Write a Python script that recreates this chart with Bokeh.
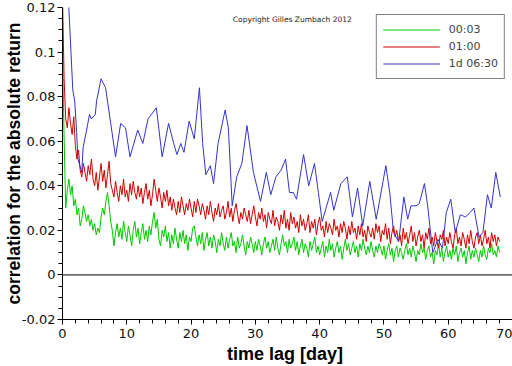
from bokeh.plotting import figure
from bokeh.models import Range1d, Span, Legend, LegendItem, Label, FixedTicker, CustomJSTickFormatter
from bokeh.embed import file_html
from bokeh.resources import INLINE

# ---------------- data ----------------
# time lag in days for the two noisy series: 0, 0.25, ..., 68
t_step = [i * 0.25 for i in range(273)]

# correlation values in units of 1/1000
green_0003_pm = [
    100, 62, 30, 38, 43, 36, 40, 31, 34, 27, 30, 22, 25, 31, 28, 24,
    27, 22, 25, 20, 23, 18, 21, 19, 26, 30, 27, 33, 37, 31, 24, 20,
    13, 19, 23, 17, 21, 16, 24, 19, 15, 22, 18, 13, 20, 24, 17, 21,
    14, 19, 23, 16, 20, 15, 22, 18, 24, 28, 21, 25, 16, 13, 20, 17,
    22, 15, 19, 12, 18, 14, 21, 16, 12, 19, 15, 20, 14, 18, 11, 17,
    15, 21, 22, 17, 13, 18, 14, 19, 11, 16, 19, 13, 17, 12, 18, 15,
    10, 16, 13, 19, 14, 11, 17, 12, 16, 19, 13, 15, 10, 17, 12, 14,
    18, 13, 9, 15, 12, 17, 14, 10, 15, 11, 16, 13, 9, 14, 17, 12,
    15, 10, 13, 16, 11, 17, 12, 9, 14, 18, 13, 15, 10, 16, 12, 14,
    17, 11, 15, 9, 13, 16, 10, 14, 12, 8, 15, 11, 14, 17, 10, 13,
    9, 12, 15, 8, 13, 10, 16, 11, 14, 8, 12, 15, 10, 13, 7, 12,
    16, 11, 14, 9, 12, 15, 10, 13, 8, 14, 11, 16, 12, 9, 13, 10,
    15, 11, 8, 13, 10, 14, 12, 9, 13, 7, 11, 14, 9, 12, 6, 11,
    13, 8, 12, 10, 7, 11, 14, 9, 12, 8, 13, 10, 6, 11, 9, 14,
    10, 12, 7, 11, 13, 8, 10, 5, 11, 9, 14, 8, 12, 6, 10, 13,
    8, 11, 7, 12, 9, 13, 6, 10, 12, 8, 11, 5, 10, 13, 7, 11,
    8, 12, 9, 6, 11, 8, 13, 9, 7, 12, 10, 14, 9, 11, 8, 13,
    10,
]

red_0100_pm = [
    125, 88, 70, 66, 75, 68, 63, 71, 58, 52, 56, 47, 44, 50, 46, 42,
    49, 45, 52, 43, 40, 46, 38, 44, 50, 42, 47, 39, 45, 51, 41, 38,
    35, 42, 37, 33, 40, 36, 43, 35, 38, 33, 41, 36, 42, 37, 34, 40,
    35, 39, 32, 37, 41, 34, 38, 31, 36, 43, 38, 33, 39, 35, 30, 37,
    33, 38, 31, 35, 29, 34, 30, 27, 33, 28, 35, 31, 27, 32, 29, 34,
    30, 26, 33, 28, 34, 31, 27, 32, 29, 25, 31, 27, 33, 28, 24, 30,
    27, 32, 26, 29, 31, 25, 28, 33, 26, 30, 24, 29, 32, 27, 23, 28,
    25, 30, 27, 24, 29, 23, 27, 31, 26, 22, 28, 25, 30, 24, 27, 21,
    28, 25, 23, 29, 22, 26, 24, 20, 27, 23, 29, 21, 25, 20, 28, 23,
    26, 21, 24, 19, 27, 22, 25, 20, 23, 27, 19, 24, 21, 25, 18, 23,
    26, 20, 22, 17, 24, 19, 23, 21, 18, 25, 20, 22, 17, 23, 19, 24,
    21, 16, 22, 18, 24, 19, 21, 16, 22, 18, 23, 17, 20, 15, 22, 19,
    17, 21, 16, 23, 19, 22, 15, 20, 18, 23, 16, 21, 14, 19, 22, 17,
    20, 15, 18, 13, 21, 16, 19, 14, 18, 22, 15, 19, 13, 17, 20, 15,
    18, 12, 19, 16, 21, 14, 17, 13, 19, 15, 12, 18, 16, 20, 13, 17,
    14, 19, 15, 12, 18, 21, 14, 17, 13, 19, 16, 12, 18, 14, 20, 15,
    12, 17, 19, 14, 18, 13, 16, 20, 14, 17, 12, 19, 15, 18, 13, 17,
    15,
]

t_blue = [
    0.9, 1.6, 1.9, 2.2, 2.4, 3.0, 3.2, 3.75, 4.2, 4.5, 5.1, 5.3, 6.0, 6.7, 7.5,
    8.25, 9.05, 9.8, 10.5, 11.7, 12.5, 13.3, 14.6, 15.5, 16.5, 17.3, 17.8, 18.4,
    18.9, 19.7, 20.5, 21.3, 21.8, 22.3, 23.0, 23.5, 24.2, 25.3, 25.8, 26.4, 27.1,
    27.9, 28.7, 29.7, 30.8, 31.7, 32.4, 33.2, 34.0, 34.7, 35.3, 35.9, 36.4, 37.5,
    38.3, 39.2, 39.8, 40.4, 41.7, 42.2, 43.3, 44.3, 45.1, 45.9, 46.7, 47.8, 48.8,
    50.3, 50.9, 51.5, 52.3, 53.1, 53.7, 54.2, 55.0, 55.5, 56.3, 56.8, 57.6, 58.4,
    59.1, 59.7, 60.4, 61.1, 61.9, 62.7, 63.4, 64.0, 64.8, 65.4, 66.1, 66.7, 67.4,
    68.1,
]
blue_1d0630 = [
    0.125, 0.083, 0.078, 0.064, 0.052, 0.046, 0.057, 0.065, 0.072, 0.070, 0.072,
    0.078, 0.088, 0.084, 0.068, 0.053, 0.068, 0.066, 0.053, 0.065, 0.059, 0.070,
    0.075, 0.053, 0.068, 0.059, 0.054, 0.059, 0.055, 0.069, 0.061, 0.084, 0.059,
    0.045, 0.049, 0.041, 0.059, 0.074, 0.066, 0.031, 0.044, 0.050, 0.067, 0.046,
    0.033, 0.046, 0.036, 0.044, 0.047, 0.052, 0.037, 0.037, 0.034, 0.054, 0.040,
    0.050, 0.037, 0.024, 0.037, 0.029, 0.041, 0.044, 0.026, 0.039, 0.022, 0.042,
    0.025, 0.049, 0.037, 0.019, 0.015, 0.035, 0.025, 0.031, 0.031, 0.032, 0.041,
    0.031, 0.010, 0.016, 0.012, 0.028, 0.034, 0.019, 0.027, 0.026, 0.028, 0.030,
    0.017, 0.019, 0.036, 0.030, 0.046, 0.035,
]

series_labels = ["00:03", "01:00", "1d 06:30"]
x_ticks = [0, 10, 20, 30, 40, 50, 60, 70]
x_minor = [i * 2 for i in range(36)]
y_ticks = [-0.02, 0.0, 0.02, 0.04, 0.06, 0.08, 0.10, 0.12]
y_minor = [-0.02 + i * 0.005 for i in range(29)]

green_0003 = [v / 1000 for v in green_0003_pm]
red_0100 = [v / 1000 for v in red_0100_pm]

# ---------------- figure ----------------
p = figure(width=512, height=366, output_backend="svg", toolbar_location=None,
           x_range=Range1d(0, 70), y_range=Range1d(-0.02, 0.12),
           min_border_top=7, min_border_right=0, min_border_left=61, min_border_bottom=45)
p.outline_line_color = None
p.grid.visible = False
p.background_fill_color = "white"
p.border_fill_color = "white"

FONT = "Liberation Sans"
TICKFONT = "DejaVu Sans"

p.xaxis.ticker = FixedTicker(ticks=x_ticks, minor_ticks=x_minor)
p.yaxis.ticker = FixedTicker(ticks=y_ticks, minor_ticks=y_minor)
p.yaxis.formatter = CustomJSTickFormatter(
    code="var s = tick.toFixed(2); s = s.replace(/0+$/, '').replace(/\\.$/, ''); if (s == '-0') s = '0'; return s;")

for ax in (p.xaxis[0], p.yaxis[0]):
    ax.axis_line_color = "black"
    ax.major_tick_line_color = "black"
    ax.minor_tick_line_color = "black"
    ax.major_tick_in = 0
    ax.minor_tick_in = 0
    ax.major_tick_out = 5
    ax.minor_tick_out = 4
    ax.major_label_text_font = TICKFONT
    ax.major_label_text_font_size = "13px"
    ax.major_label_text_color = "#111111"
    ax.major_label_text_line_height = 0.9
    ax.axis_label_text_font = FONT
    ax.axis_label_text_font_style = "bold"
    ax.axis_label_text_color = "black"
    ax.axis_label_text_line_height = 0.9

p.xaxis.major_label_standoff = 4
p.xaxis.axis_label_standoff = 3
p.yaxis.major_label_standoff = 2
p.yaxis.axis_label_standoff = -5

p.xaxis.axis_label = "time lag  [day]"
p.xaxis.axis_label_text_font_size = "18px"
p.yaxis.axis_label = "correlation for the absolute return"
p.yaxis.axis_label_text_font_size = "17.5px"

p.add_layout(Span(location=0, dimension="width", line_color="black", line_width=1))

r_green = p.line(t_step, green_0003, line_color="#00c800", line_width=1)
r_red = p.line(t_step, red_0100, line_color="#d00000", line_width=1)
r_blue = p.line(t_blue, blue_1d0630, line_color="#3333cc", line_width=1)

legend = Legend(items=[LegendItem(label=series_labels[0], renderers=[r_green]),
                       LegendItem(label=series_labels[1], renderers=[r_red]),
                       LegendItem(label=series_labels[2], renderers=[r_blue])],
                location="top_right", orientation="vertical",
                border_line_color="black", border_line_width=1,
                background_fill_color="white", background_fill_alpha=1,
                label_text_font=TICKFONT, label_text_font_size="11px",
                glyph_width=57, glyph_height=17, label_height=17,
                label_standoff=9, spacing=0, padding=6, margin=7)
p.add_layout(legend)

p.add_layout(Label(x=26.5, y=0.1147, text="Copyright Gilles Zumbach 2012",
                   text_font=TICKFONT, text_font_size="7.5px", text_baseline="middle",
                   text_color="#222222"))

open("out.html", "w").write(file_html(p, INLINE))
